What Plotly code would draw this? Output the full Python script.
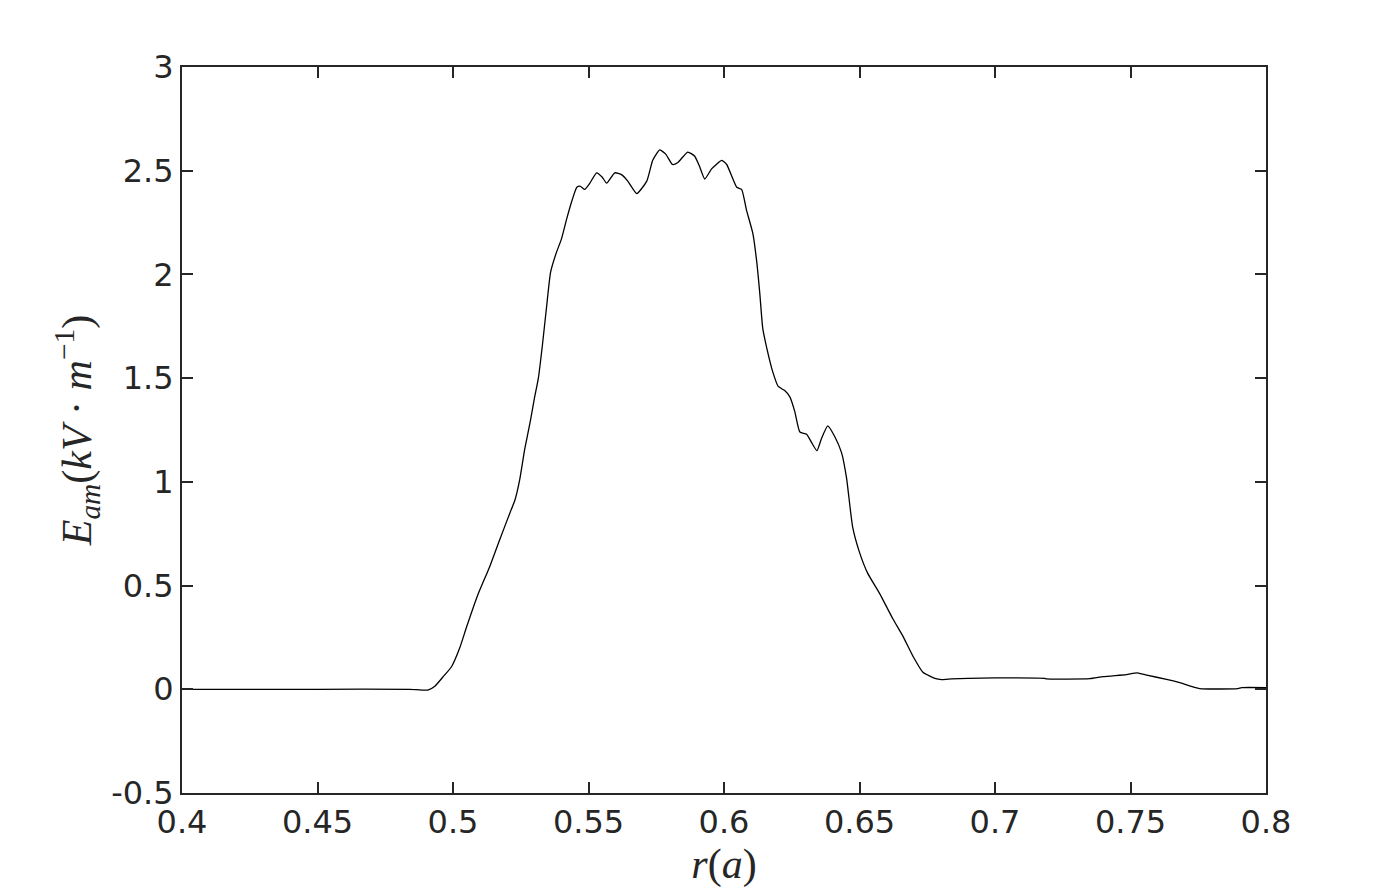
import plotly.graph_objects as go

# radial position r(a)
r_vals = [0.40, 0.45, 0.484, 0.4907, 0.4933, 0.4962, 0.4995, 0.5025, 0.505, 0.509,
          0.5135, 0.5172, 0.521, 0.5228, 0.5246, 0.5265, 0.5285, 0.530, 0.5315, 0.533,
          0.5345, 0.536, 0.538, 0.540, 0.542, 0.544, 0.5457, 0.547, 0.5486, 0.5505,
          0.553, 0.555, 0.5567, 0.5597, 0.5623, 0.5645, 0.5678, 0.5715, 0.5737, 0.5763,
          0.5785, 0.581, 0.583, 0.5866, 0.5892, 0.591, 0.5929, 0.5955, 0.5992, 0.601,
          0.6047, 0.6065, 0.6083, 0.6106, 0.612, 0.6132, 0.6143, 0.6157, 0.618, 0.620,
          0.6224, 0.6243, 0.6261, 0.628, 0.6305, 0.6323, 0.6343, 0.636, 0.6383, 0.6408,
          0.6434, 0.6452, 0.6475, 0.650, 0.653, 0.6575, 0.6623, 0.666, 0.6697, 0.6734,
          0.6778, 0.6803, 0.684, 0.690, 0.700, 0.7183, 0.719, 0.735, 0.7399, 0.7485,
          0.7525, 0.756, 0.7633, 0.7682, 0.7755, 0.7896, 0.791, 0.800]

# field amplitude E_am (kV/m)
e_vals = [0.0, 0.0, 0.0, -0.004, 0.015, 0.058, 0.11, 0.20, 0.30, 0.45,
          0.59, 0.72, 0.85, 0.91, 1.01, 1.16, 1.29, 1.40, 1.50, 1.66,
          1.84, 2.01, 2.10, 2.17, 2.27, 2.36, 2.42, 2.425, 2.41, 2.44,
          2.49, 2.47, 2.44, 2.49, 2.48, 2.45, 2.39, 2.45, 2.55, 2.60,
          2.58, 2.53, 2.54, 2.59, 2.57, 2.52, 2.46, 2.51, 2.55, 2.53,
          2.42, 2.41, 2.31, 2.20, 2.07, 1.91, 1.74, 1.65, 1.53, 1.46,
          1.44, 1.41, 1.34, 1.24, 1.23, 1.19, 1.15, 1.21, 1.27, 1.22,
          1.14, 1.02, 0.78, 0.66, 0.56, 0.46, 0.34, 0.256, 0.16, 0.082,
          0.053, 0.047, 0.05, 0.053, 0.055, 0.053, 0.05, 0.051, 0.061, 0.071,
          0.079, 0.068, 0.048, 0.032, 0.0035, 0.0035, 0.008, 0.008]

x_ticks = [0.4, 0.45, 0.5, 0.55, 0.6, 0.65, 0.7, 0.75, 0.8]
x_tick_text = ["0.4", "0.45", "0.5", "0.55", "0.6", "0.65", "0.7", "0.75", "0.8"]
y_ticks = [-0.5, 0, 0.5, 1, 1.5, 2, 2.5, 3]
y_tick_text = ["-0.5", "0", "0.5", "1", "1.5", "2", "2.5", "3"]

axis_color = "#262626"
tick_font = dict(family="DejaVu Sans", size=32, color=axis_color)
label_font = dict(family="Liberation Serif", size=42, color=axis_color)

fig = go.Figure()
fig.add_trace(go.Scatter(x=r_vals, y=e_vals, mode="lines",
                         line=dict(color="black", width=1.3, shape="spline", smoothing=0.5),
                         showlegend=False))

common = dict(showline=True, linecolor=axis_color, linewidth=2, mirror="ticks",
              ticks="inside", ticklen=11, tickwidth=2, tickcolor=axis_color,
              showgrid=False, zeroline=False, tickfont=tick_font)

fig.update_xaxes(range=[0.4, 0.8], tickvals=x_ticks, ticktext=x_tick_text,
                 title=dict(text="<i>r</i>(<i>a</i>)", font=label_font, standoff=0),
                 **common)
fig.update_yaxes(range=[-0.5, 3], tickvals=y_ticks, ticktext=y_tick_text,
                 title=dict(text="<i>E</i><sub><i>am</i></sub>(<i>kV</i> · <i>m</i><sup>−1</sup>)",
                            font=label_font, standoff=6),
                 **common)

fig.update_layout(width=1400, height=892,
                  margin=dict(l=174, r=142, t=59, b=107),
                  paper_bgcolor="white", plot_bgcolor="white")

fig.write_html("out.html")
